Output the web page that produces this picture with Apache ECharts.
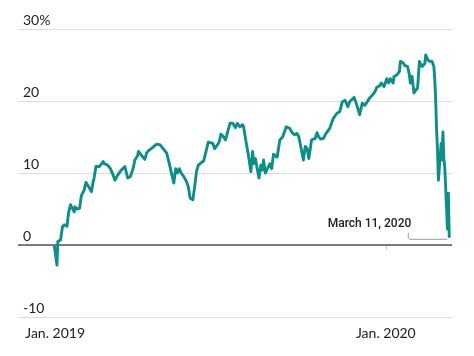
<!DOCTYPE html>
<html>
<head>
<meta charset="utf-8">
<script src="https://cdn.jsdelivr.net/npm/echarts@6/dist/echarts.min.js"></script>
<style>
html,body{margin:0;padding:0;background:#fff;}
#c{width:474px;height:356px;}
</style>
</head>
<body>
<div id="c"></div>
<script>
// Cumulative change since end of 2018, percent
const dates = [
'2018-12-31','2019-01-03','2019-01-04','2019-01-07','2019-01-09','2019-01-11','2019-01-14','2019-01-16','2019-01-18','2019-01-22',
'2019-01-23','2019-01-25','2019-01-28','2019-01-30','2019-02-02','2019-02-04','2019-02-07','2019-02-10','2019-02-12','2019-02-13',
'2019-02-15','2019-02-19','2019-02-23','2019-02-24','2019-02-28','2019-03-03','2019-03-06','2019-03-08','2019-03-11','2019-03-15',
'2019-03-19','2019-03-22','2019-03-25','2019-03-28','2019-03-30','2019-04-02','2019-04-03','2019-04-06','2019-04-08','2019-04-10',
'2019-04-12','2019-04-14','2019-04-17','2019-04-20','2019-04-23','2019-04-24','2019-04-27','2019-04-30','2019-05-02','2019-05-04',
'2019-05-05','2019-05-07','2019-05-09','2019-05-12','2019-05-14','2019-05-16','2019-05-18','2019-05-20','2019-05-23','2019-05-26',
'2019-05-28','2019-05-30','2019-06-02','2019-06-04','2019-06-06','2019-06-08','2019-06-11','2019-06-14','2019-06-16','2019-06-19',
'2019-06-21','2019-06-24','2019-06-26','2019-06-29','2019-07-01','2019-07-03','2019-07-06','2019-07-08','2019-07-11','2019-07-13',
'2019-07-14','2019-07-16','2019-07-19','2019-07-21','2019-07-24','2019-07-27','2019-07-28','2019-07-31','2019-08-02','2019-08-05',
'2019-08-07','2019-08-08','2019-08-10','2019-08-12','2019-08-14','2019-08-16','2019-08-18','2019-08-19','2019-08-21','2019-08-23',
'2019-08-26','2019-08-28','2019-08-30','2019-09-03','2019-09-06','2019-09-09','2019-09-13','2019-09-17','2019-09-19','2019-09-22',
'2019-09-25','2019-09-27','2019-09-29','2019-10-02','2019-10-04','2019-10-06','2019-10-08','2019-10-11','2019-10-15','2019-10-17',
'2019-10-19','2019-10-21','2019-10-24','2019-10-27','2019-10-31','2019-11-02','2019-11-04','2019-11-08','2019-11-11','2019-11-14',
'2019-11-17','2019-11-20','2019-11-22','2019-11-24','2019-11-27','2019-11-30','2019-12-03','2019-12-04','2019-12-06','2019-12-09',
'2019-12-11','2019-12-14','2019-12-17','2019-12-20','2019-12-22','2019-12-25','2019-12-27','2019-12-30','2020-01-02','2020-01-04',
'2020-01-06','2020-01-09','2020-01-10','2020-01-13','2020-01-16','2020-01-17','2020-01-20','2020-01-22','2020-01-25','2020-01-27',
'2020-01-28','2020-01-30','2020-02-01','2020-02-03','2020-02-05','2020-02-07','2020-02-09','2020-02-10','2020-02-13','2020-02-14',
'2020-02-16','2020-02-18','2020-02-21','2020-02-23','2020-02-24','2020-02-25','2020-02-26','2020-02-27','2020-02-28','2020-03-02',
'2020-03-03','2020-03-04','2020-03-05','2020-03-06','2020-03-09','2020-03-10','2020-03-11'
];
const values = [
0,-2.8,0.5,0.7,2.5,2.8,2.6,4.6,5.6,4.6,
5.3,5.0,5.1,6.9,7.6,8.7,8.1,7.4,8.8,9.3,
10.9,10.9,11.6,11.3,11.1,10.6,9.7,9.0,9.7,10.4,
10.9,9.3,9.5,10.6,11.8,12.4,13.0,12.5,12.3,11.9,
12.8,13.1,13.4,13.7,14.0,13.75,13.9,13.4,13.6,12.8,
13.0,11.3,10.2,8.6,10.6,10.0,10.6,10.0,9.5,8.8,
8.1,6.5,6.3,8.1,10.2,11.1,11.4,11.7,11.8,14.3,
14.5,14.1,13.4,13.9,14.3,15.4,15.0,14.6,16.0,16.9,
17.1,16.9,16.3,16.9,16.4,16.7,16.4,14.1,12.7,10.2,
13.0,11.3,12.0,10.6,9.3,11.1,10.4,11.8,10.0,10.2,
11.3,10.6,12.6,12.2,14.6,15.0,16.4,16.2,15.7,15.3,
15.5,15.0,15.1,11.8,13.7,13.4,12.0,14.6,14.8,15.6,
15.0,14.7,14.8,15.5,16.2,16.9,17.6,18.3,18.5,19.9,
20.1,19.2,19.9,20.1,20.5,19.4,18.1,18.3,19.7,19.4,
19.2,20.4,20.8,21.3,21.9,22.1,22.5,22.0,23.1,22.5,
23.1,22.5,23.4,23.6,24.1,25.5,25.3,24.9,24.8,23.6,
22.5,23.4,21.1,21.5,21.8,25.5,25.7,24.8,25.2,26.4,
25.8,25.5,25.5,24.8,22.9,20.1,16.0,13.2,9.0,14.1,
11.8,15.7,12.0,10.9,2.2,7.2,1.0
];
const yTicks = [-10, 0, 10, 20, 30];
const xTickDates = ['2019-01-01', '2020-01-01'];
const xRange = ['2018-11-21', '2020-03-14'];
const annotationText = 'March 11, 2020';

const ts = d => echarts.time.parse(d).getTime();
const chart = echarts.init(document.getElementById('c'), null, {renderer: 'canvas'});
const FONT = 'Lato, "Noto Sans", sans-serif';
const tickVals = xTickDates.map(ts);
const seriesData = dates.map((d, i) => [ts(d), values[i]]);

chart.setOption({
  animation: false,
  backgroundColor: '#fff',
  grid: {left: 18, right: 22, top: 29, bottom: 39, containLabel: false},
  xAxis: {
    type: 'value',
    min: ts(xRange[0]),
    max: ts(xRange[1]),
    axisLine: {show: false},
    splitLine: {show: false},
    axisTick: {show: true, length: 5, lineStyle: {color: '#ccc', width: 1}, customValues: tickVals},
    axisLabel: {
      customValues: tickVals,
      showMinLabel: true, showMaxLabel: true,
      margin: 9,
      color: '#222',
      fontFamily: FONT,
      fontSize: 14,
      formatter: function (v) { return 'Jan. ' + new Date(v).getFullYear(); }
    }
  },
  yAxis: {
    type: 'value',
    min: yTicks[0],
    max: yTicks[yTicks.length - 1],
    interval: 10,
    axisLine: {show: false},
    axisTick: {show: false},
    splitLine: {show: true, lineStyle: {color: '#dcdcdc', width: 1}},
    axisLabel: {
      inside: true,
      margin: 5,
      verticalAlign: 'bottom',
      align: 'left',
      padding: [0, 0, 2, 0],
      color: '#222',
      fontFamily: FONT,
      fontSize: 14,
      formatter: function (v) { return v === yTicks[yTicks.length - 1] ? v + '%' : String(v); }
    }
  },
  series: [{
    type: 'line',
    data: seriesData,
    showSymbol: false,
    symbol: 'none',
    lineStyle: {color: '#0d8e88', width: 2.9, join: 'round'},
    markLine: {
      silent: true,
      symbol: 'none',
      label: {show: false},
      lineStyle: {color: '#555', width: 1.5, type: 'solid'},
      data: [{yAxis: 0}],
      z: 1
    },
    z: 3
  }]
});

const lastPt = seriesData[seriesData.length - 1];
const last = chart.convertToPixel({seriesIndex: 0}, lastPt);
const px = last[0], py = last[1];
chart.setOption({
  graphic: [
    {
      type: 'text',
      x: px - 38, y: py - 14,
      style: {
        text: annotationText,
        fill: '#222',
        font: '500 12px Roboto, "Noto Sans", sans-serif',
        align: 'right',
        verticalAlign: 'middle'
      },
      z: 10
    },
    {
      type: 'polyline',
      shape: {points: [[px - 41, py - 5], [px - 41, py - 0.5], [px - 39.5, py + 1.5], [px - 2, py + 1.5]]},
      style: {stroke: '#999', lineWidth: 1, fill: null},
      z: 10
    }
  ]
});
</script>
</body>
</html>
